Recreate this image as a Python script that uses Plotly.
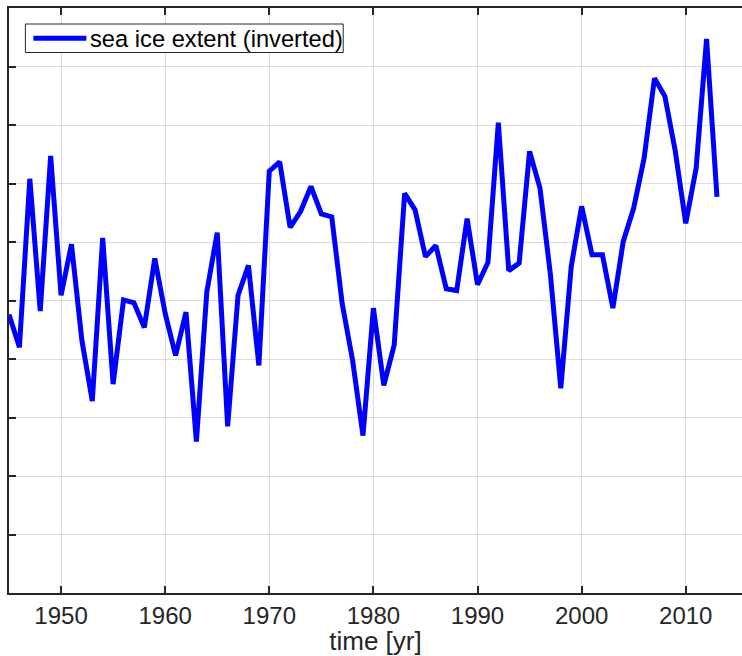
import plotly.graph_objects as go

years = list(range(1945, 2014))
ice_inverted = [
    -0.24, -0.80, 2.08, -0.18, 2.47, 0.09, 0.96, -0.68, -1.72, 1.07,
    -1.43, 0.01, -0.04, -0.46, 0.72, -0.22, -0.94, -0.20, -2.41, 0.15,
    1.16, -2.15, 0.09, 0.60, -1.11, 2.21, 2.37, 1.25, 1.52, 1.95,
    1.48, 1.43, -0.05, -1.02, -2.31, -0.13, -1.45, -0.76, 1.83, 1.55,
    0.75, 0.94, 0.20, 0.17, 1.40, 0.27, 0.65, 3.04, 0.51, 0.64,
    2.55, 1.92, 0.45, -1.50, 0.58, 1.61, 0.78, 0.78, -0.13, 1.01,
    1.58, 2.43, 3.80, 3.49, 2.55, 1.32, 2.26, 4.47, 1.77,
]
x_ticks = [1950, 1960, 1970, 1980, 1990, 2000, 2010]
legend_label = "sea ice extent (inverted)"

AX = "#262626"
GRID = "#dcdcdc"
FONT = "Liberation Sans, Arial, Helvetica, sans-serif"

fig = go.Figure()
fig.add_trace(go.Scatter(
    x=years, y=ice_inverted, mode="lines",
    line=dict(color="#0000ff", width=5),
    name=legend_label, showlegend=False,
))

# plot area in pixels: x 8.6..742, y 8..593
L, R, T, B = 8.6, 742.0, 8.0, 593.0
W = R - L
H = B - T
def px_x(p):
    return (p - L) / W
def px_y(p):
    return (B - p) / H

# compact legend box (MATLAB style)
fig.add_shape(type="rect", xref="paper", yref="paper",
              x0=px_x(25), x1=px_x(343), y0=px_y(52.5), y1=px_y(24),
              line=dict(color=AX, width=1), fillcolor="white", layer="above")
fig.add_shape(type="line", xref="paper", yref="paper",
              x0=px_x(33), x1=px_x(86), y0=px_y(38.3), y1=px_y(38.3),
              line=dict(color="#0000ff", width=5), layer="above")
fig.add_annotation(xref="paper", yref="paper", x=px_x(88), y=px_y(38.5),
                   xanchor="left", yanchor="middle", showarrow=False,
                   text=legend_label, font=dict(family=FONT, size=23.7, color="black"))

fig.update_layout(
    width=742, height=656,
    margin=dict(l=L, r=0, t=T, b=656 - B, pad=0),
    paper_bgcolor="white", plot_bgcolor="white",
    font=dict(family=FONT, color=AX),
    showlegend=False,
)
fig.update_xaxes(
    range=[1945, 1945 + W / 10.417],
    tickvals=x_ticks, ticktext=[str(v) for v in x_ticks],
    tickfont=dict(size=24, color=AX, family=FONT),
    showgrid=True, gridcolor=GRID, gridwidth=1.2,
    showline=True, linecolor=AX, linewidth=1.5, mirror="ticks",
    ticks="inside", ticklen=7, tickwidth=1.5, tickcolor=AX,
    zeroline=False,
    title=dict(text="time [yr]", font=dict(size=26, color=AX, family=FONT), standoff=2),
    automargin=False,
)
fig.update_yaxes(
    range=[-5, 5], dtick=1, showticklabels=False,
    showgrid=True, gridcolor=GRID, gridwidth=1.2,
    showline=True, linecolor=AX, linewidth=1.5, mirror=False,
    ticks="inside", ticklen=7, tickwidth=1.5, tickcolor=AX,
    zeroline=False, automargin=False,
)

fig.write_html("out.html")
